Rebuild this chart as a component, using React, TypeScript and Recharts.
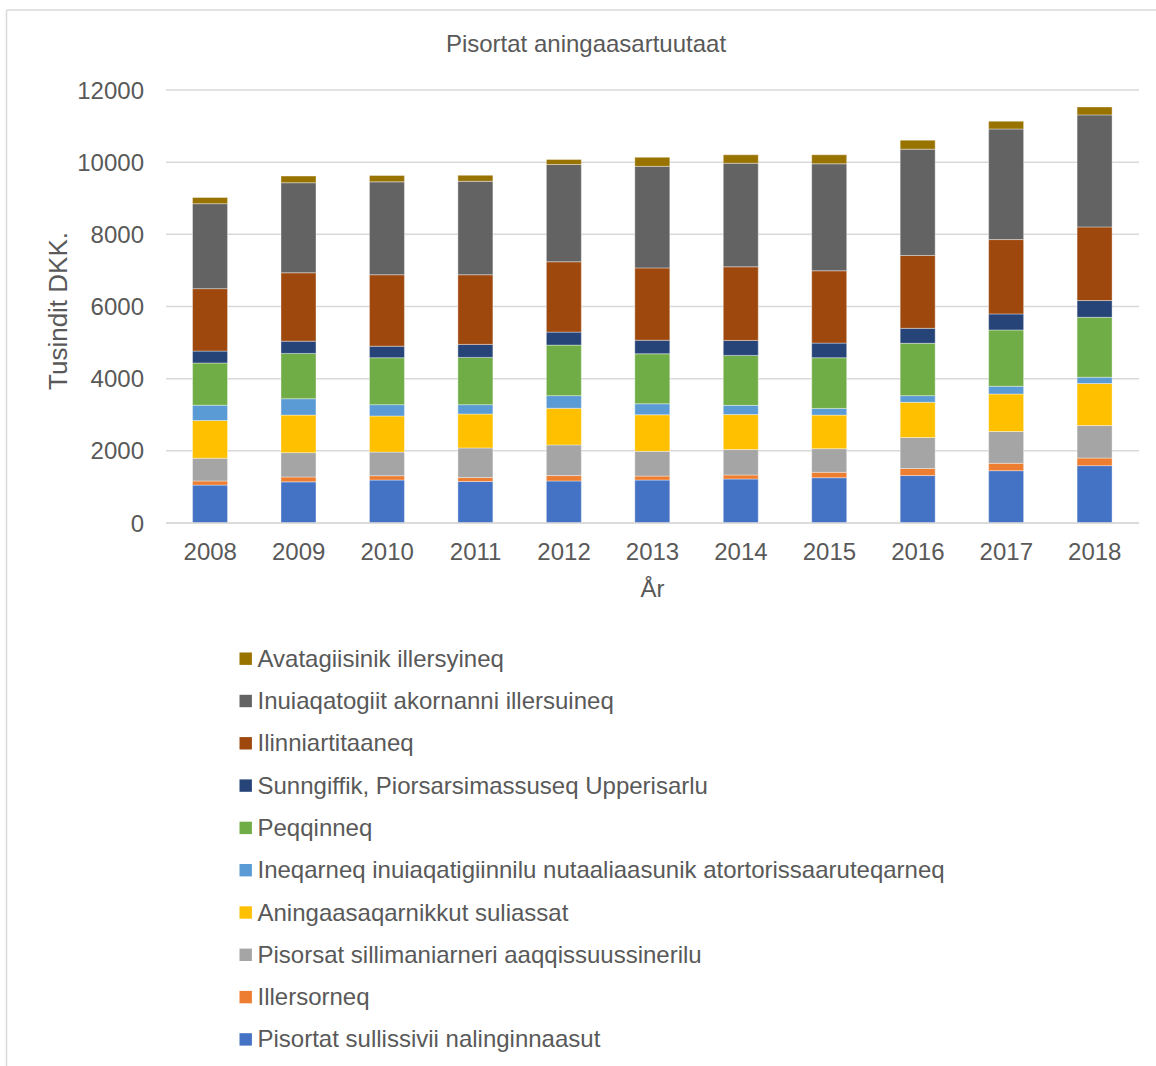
import React from "react"
import { BarChart, Bar, XAxis, YAxis, CartesianGrid } from "recharts"

const years = ["2008", "2009", "2010", "2011", "2012", "2013", "2014", "2015", "2016", "2017", "2018"]

const nalinginnaasut = [1050, 1140, 1190, 1150, 1165, 1190, 1220, 1255, 1315, 1450, 1590]
const illersorneq = [115, 135, 120, 110, 150, 110, 110, 150, 195, 205, 210]
const sillimaniarneri = [630, 675, 655, 820, 850, 685, 705, 655, 860, 880, 900]
const aningaasaqarnikkut = [1045, 1040, 1000, 940, 1015, 1015, 970, 930, 975, 1040, 1165]
const ineqarneq = [425, 455, 315, 260, 350, 305, 255, 185, 185, 215, 175]
const peqqinneq = [1170, 1255, 1300, 1310, 1400, 1385, 1385, 1405, 1450, 1560, 1660]
const sunngiffik = [330, 340, 320, 360, 360, 375, 415, 405, 415, 445, 465]
const ilinniartitaaneq = [1730, 1895, 1980, 1930, 1950, 2005, 2040, 2005, 2020, 2060, 2040]
const inuiaqatogiit = [2355, 2495, 2575, 2590, 2695, 2815, 2870, 2965, 2945, 3065, 3105]
const avatagiisinik = [170, 185, 175, 165, 140, 250, 235, 250, 250, 215, 220]

const yTicks = [0, 2000, 4000, 6000, 8000, 10000, 12000]

// bottom of the stack first
const series = [
  { key: "s1", name: "Pisortat sullissivii nalinginnaasut", color: "#4472C4", values: nalinginnaasut },
  { key: "s2", name: "Illersorneq", color: "#ED7D31", values: illersorneq },
  { key: "s3", name: "Pisorsat sillimaniarneri aaqqissuussinerilu", color: "#A5A5A5", values: sillimaniarneri },
  { key: "s4", name: "Aningaasaqarnikkut suliassat", color: "#FFC000", values: aningaasaqarnikkut },
  { key: "s5", name: "Ineqarneq inuiaqatigiinnilu nutaaliaasunik atortorissaaruteqarneq", color: "#5B9BD5", values: ineqarneq },
  { key: "s6", name: "Peqqinneq", color: "#70AD47", values: peqqinneq },
  { key: "s7", name: "Sunngiffik, Piorsarsimassuseq Upperisarlu", color: "#264478", values: sunngiffik },
  { key: "s8", name: "Ilinniartitaaneq", color: "#9E480E", values: ilinniartitaaneq },
  { key: "s9", name: "Inuiaqatogiit akornanni illersuineq", color: "#636363", values: inuiaqatogiit },
  { key: "s10", name: "Avatagiisinik illersyineq", color: "#997300", values: avatagiisinik },
]

const data = years.map((year, i) => {
  const row: Record<string, string | number> = { year }
  series.forEach((s) => {
    row[s.key] = s.values[i]
  })
  return row
})

const font = "'Liberation Sans', Arial, sans-serif"
const textColor = "#595959"

export default function App() {
  return (
    <div style={{ position: "absolute", left: 0, top: 0, width: 1156, height: 1066, background: "#fff", overflow: "hidden", fontFamily: font }}>
      <svg width={1156} height={1066} style={{ position: "absolute", left: 0, top: 0 }}>
        <line x1={6.5} y1={10} x2={1156} y2={10} stroke="#d9d9d9" strokeWidth={1.5} />
        <line x1={6.5} y1={10} x2={6.5} y2={1066} stroke="#d9d9d9" strokeWidth={1.5} />
        <text x={586} y={52} textAnchor="middle" fontSize={24} fill={textColor} fontFamily={font}>
          Pisortat aningaasartuutaat
        </text>
        <text x={66.5} y={311} textAnchor="middle" fontSize={26} fill={textColor} fontFamily={font} transform="rotate(-90 66.5 311)">
          Tusindit DKK.
        </text>
        <text x={652.5} y={597} textAnchor="middle" fontSize={24} fill={textColor} fontFamily={font}>
          År
        </text>
        {[...series].reverse().map((s, i) => {
          const cy = 658.7 + i * 42.3
          return (
            <g key={s.key}>
              <rect x={239.5} y={cy - 6.2} width={12.4} height={12.4} fill={s.color} />
              <text x={257.5} y={cy + 8} fontSize={24} fill={textColor} fontFamily={font}>
                {s.name}
              </text>
            </g>
          )
        })}
      </svg>
      <div style={{ position: "absolute", left: 0, top: 0 }}>
        <BarChart
          width={1156}
          height={640}
          data={data}
          margin={{ top: 90, right: 17, left: 0, bottom: 0 }}
          barCategoryGap="30%"
        >
          <CartesianGrid vertical={false} stroke="#d9d9d9" strokeWidth={1.5} />
          <XAxis
            dataKey="year"
            height={117}
            axisLine={{ stroke: "#d9d9d9", strokeWidth: 1.5 }}
            tickLine={false}
            tickSize={0}
            tickMargin={20}
            tick={{ fill: textColor, fontSize: 24, fontFamily: font }}
          />
          <YAxis
            width={166}
            domain={[0, 12000]}
            ticks={yTicks}
            axisLine={false}
            tickLine={false}
            tickSize={0}
            tickMargin={22}
            tick={{ fill: textColor, fontSize: 24, fontFamily: font }}
          />
          {series.map((s) => (
            <Bar
              key={s.key}
              dataKey={s.key}
              name={s.name}
              stackId="total"
              fill={s.color}
              stroke="#ffffff"
              strokeOpacity={0.5}
              strokeWidth={0.75}
              isAnimationActive={false}
            />
          ))}
        </BarChart>
      </div>
    </div>
  )
}
